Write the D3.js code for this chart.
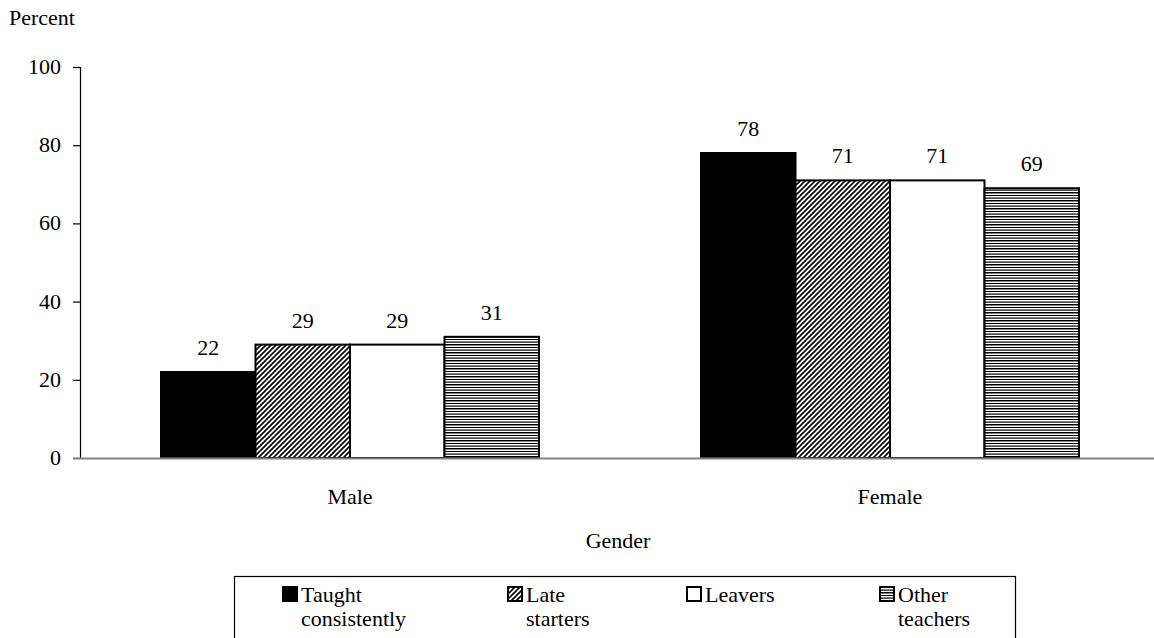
<!DOCTYPE html>
<html>
<head>
<meta charset="utf-8">
<script src="https://cdn.jsdelivr.net/npm/d3@7"></script>
<style>
  body { margin: 0; font-family: "Times New Roman"; }
  #chart text { font: 22px "Times New Roman"; }
</style>
</head>
<body>
<svg id="chart" width="1154" height="638"></svg>
<script>
// Share of teachers by gender, per teacher group
const categories = ["Male", "Female"];
const seriesNames = ["Taught consistently", "Late starters", "Leavers", "Other teachers"];
const legendLines = [["Taught", "consistently"], ["Late", "starters"], ["Leavers"], ["Other", "teachers"]];
const taughtConsistently = [22, 78];
const lateStarters = [29, 71];
const leavers = [29, 71];
const otherTeachers = [31, 69];
const yTicks = [0, 20, 40, 60, 80, 100];

const seriesValues = [taughtConsistently, lateStarters, leavers, otherTeachers];
const fills = ["#000", "url(#hatch)", "#fff", "url(#stripes)"];

const svg = d3.select("#chart");

function label(parent, x, yPos, txt, anchor) {
  return parent.append("text")
    .attr("x", x).attr("y", yPos)
    .attr("text-anchor", anchor || "start")
    .attr("fill", "#000")
    .text(txt);
}

// Fill patterns
const defs = svg.append("defs");
const hatch = defs.append("pattern")
  .attr("id", "hatch").attr("patternUnits", "userSpaceOnUse")
  .attr("width", 5).attr("height", 5);
hatch.append("rect").attr("width", 5).attr("height", 5).attr("fill", "#fff");
hatch.append("path").attr("d", "M-1,6 L6,-1 M-1,1 L1,-1 M4,6 L6,4")
  .attr("stroke", "#000").attr("stroke-width", 1.6);

const stripes = defs.append("pattern")
  .attr("id", "stripes").attr("patternUnits", "userSpaceOnUse")
  .attr("width", 8).attr("height", 8);
stripes.append("rect").attr("width", 8).attr("height", 8).attr("fill", "#fff");
stripes.append("rect").attr("y", 0).attr("width", 8).attr("height", 1.5).attr("fill", "#000");
stripes.append("rect").attr("y", 3).attr("width", 8).attr("height", 1).attr("fill", "#000");
stripes.append("rect").attr("y", 5.5).attr("width", 8).attr("height", 1.2).attr("fill", "#000");

// Scales
const x0 = d3.scaleBand().domain(categories).range([80, 1160]).paddingInner(0.3).paddingOuter(0.15);
const x1 = d3.scaleBand().domain(seriesNames).range([0, x0.bandwidth()]);
const y = d3.scaleLinear().domain([0, 100]).range([458, 67]);

// Y axis: line and ticks from the axis generator, labels as plain text
const yAxis = svg.append("g").attr("transform", "translate(80,0)")
  .call(d3.axisLeft(y).tickValues(yTicks).tickSize(7).tickFormat(""));
yAxis.attr("font-family", null).attr("font-size", null);
yAxis.select(".domain").attr("stroke", "#000").attr("stroke-width", 1.2).attr("d", "M0.5,67V458");
yAxis.selectAll(".tick line").attr("stroke", "#000").attr("stroke-width", 1.2);
yAxis.selectAll(".tick text").remove();
yTicks.forEach(t => label(svg, 61, y(t) + 7, t, "end"));

label(svg, 9, 25, "Percent");

// Bars with value labels
categories.forEach((cat, ci) => {
  const g = svg.append("g").attr("transform", `translate(${x0(cat)},0)`);
  seriesNames.forEach((s, si) => {
    const v = seriesValues[si][ci];
    g.append("rect")
      .attr("x", x1(s)).attr("y", y(v))
      .attr("width", x1.bandwidth()).attr("height", y(0) - y(v))
      .attr("fill", fills[si]).attr("stroke", "#000").attr("stroke-width", 2);
    label(g, x1(s) + x1.bandwidth() / 2, y(v) - 17, v, "middle");
  });
});

// X axis
const xAxis = svg.append("g").attr("transform", `translate(0,${y(0)})`)
  .call(d3.axisBottom(x0).tickSize(0).tickFormat(""));
xAxis.attr("font-family", null).attr("font-size", null);
xAxis.select(".domain").attr("stroke", "#808080").attr("stroke-width", 2).attr("d", "M73,0.5H1160");
xAxis.selectAll(".tick text").remove();
categories.forEach(cat => label(svg, x0(cat) + x0.bandwidth() / 2, 504, cat, "middle"));

label(svg, 618, 548, "Gender", "middle");

// Legend
const legend = svg.append("g");
legend.append("rect").attr("x", 234.5).attr("y", 576.5).attr("width", 781).attr("height", 70)
  .attr("fill", "#fff").attr("stroke", "#000").attr("stroke-width", 1.2);
const legendX = [282, 507, 686, 879];
seriesNames.forEach((s, i) => {
  const lg = legend.append("g").attr("transform", `translate(${legendX[i]},0)`);
  lg.append("rect").attr("x", 1).attr("y", 587).attr("width", 14).attr("height", 14)
    .attr("fill", fills[i]).attr("stroke", "#000").attr("stroke-width", 2);
  legendLines[i].forEach((line, li) => label(lg, 19, 602 + li * 24, line));
});
</script>
</body>
</html>
